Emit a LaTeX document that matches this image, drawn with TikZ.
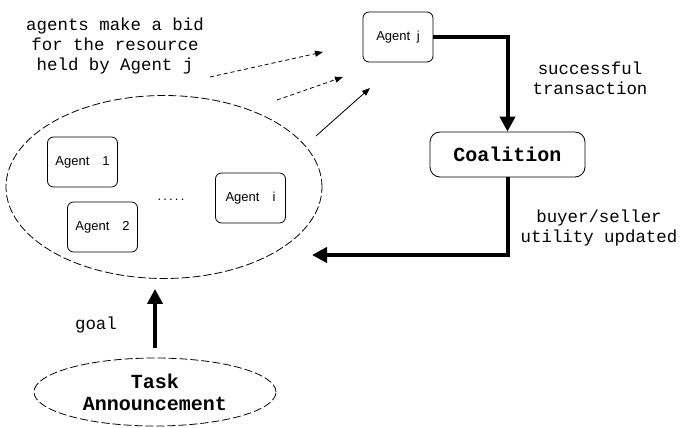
\documentclass[tikz,border=0pt]{standalone}
\usepackage{fontspec}
\setmainfont{Liberation Serif}
\setsansfont{Liberation Sans}
\setmonofont{Liberation Mono}
\usetikzlibrary{arrows.meta,shapes.geometric}

\begin{document}
\begin{tikzpicture}[x=0.5pt,y=-0.5pt,
  agent/.style={draw,rounded corners=3pt,inner sep=0pt,minimum width=35pt,minimum height=25pt,
    font=\sffamily\fontsize{6.5}{8}\selectfont},
  txt/.style={font=\ttfamily\fontsize{8.7}{9.8}\selectfont,align=center},
  boldtxt/.style={font=\ttfamily\bfseries\fontsize{10}{11}\selectfont,align=center},
  fuzzy/.style={draw,ellipse,inner sep=0pt,line width=0.4pt,dash pattern=on 4pt off 1.5pt},
  flow/.style={line width=2pt,-{Triangle[length=7.5pt,width=7.5pt]}},
  bid/.style={line width=0.4pt,-{Triangle[length=4pt,width=3pt]}}]
  \useasboundingbox (0,0) rectangle (680,428);
  \node[fuzzy,minimum width=158pt,minimum height=91.5pt] (pool) at (164,187) {};
  \node[agent] (a1) at (82.5,162) {Agent\quad 1};
  \node[agent] (a2) at (102.5,227) {Agent\quad 2};
  \node[agent] (ai) at (250.5,198) {Agent\quad i};
  \node[font=\sffamily\fontsize{6.5}{8}\selectfont] (dots) at (171,200) {.\,.\,.\,.\,.};
  \node[agent] (aj) at (398,37) {Agent\enspace j};
  \node[draw,rounded corners=5pt,minimum width=77.5pt,minimum height=22.5pt,boldtxt] (coal) at (507.5,154.5) {Coalition};
  \node[fuzzy,minimum width=121pt,minimum height=34pt,boldtxt] (task) at (155,392) {Task\\Announcement};
  \node[txt] (bidtxt) at (115,46) {agents make a bid\\for the resource\\held by Agent j};
  \node[txt] (succ) at (590,78) {successful\\transaction};
  \node[txt] (upd) at (599,228) {buyer/seller\\utility updated};
  \node[txt] (goal) at (96,325) {goal};
  \coordinate (back) at (312,255);
  \coordinate (b1) at (210,77);
  \coordinate (b2) at (277,100);
  \coordinate (b3) at (316,136);
  \coordinate (t1) at (323,52);
  \coordinate (t2) at (343,77);
  \coordinate (t3) at (370,88);
  \draw[flow] (aj.east) -| (coal.north);
  \draw[flow] (coal.south) |- (back);
  \draw[flow,shorten <=5pt,shorten >=5pt] (task.north) -- (task.north |- pool.south);
  \draw[bid,dash pattern=on 2pt off 1.5pt] (b1) -- (t1);
  \draw[bid,dash pattern=on 2pt off 1.5pt] (b2) -- (t2);
  \draw[bid] (b3) -- (t3);
\end{tikzpicture}
\end{document}
